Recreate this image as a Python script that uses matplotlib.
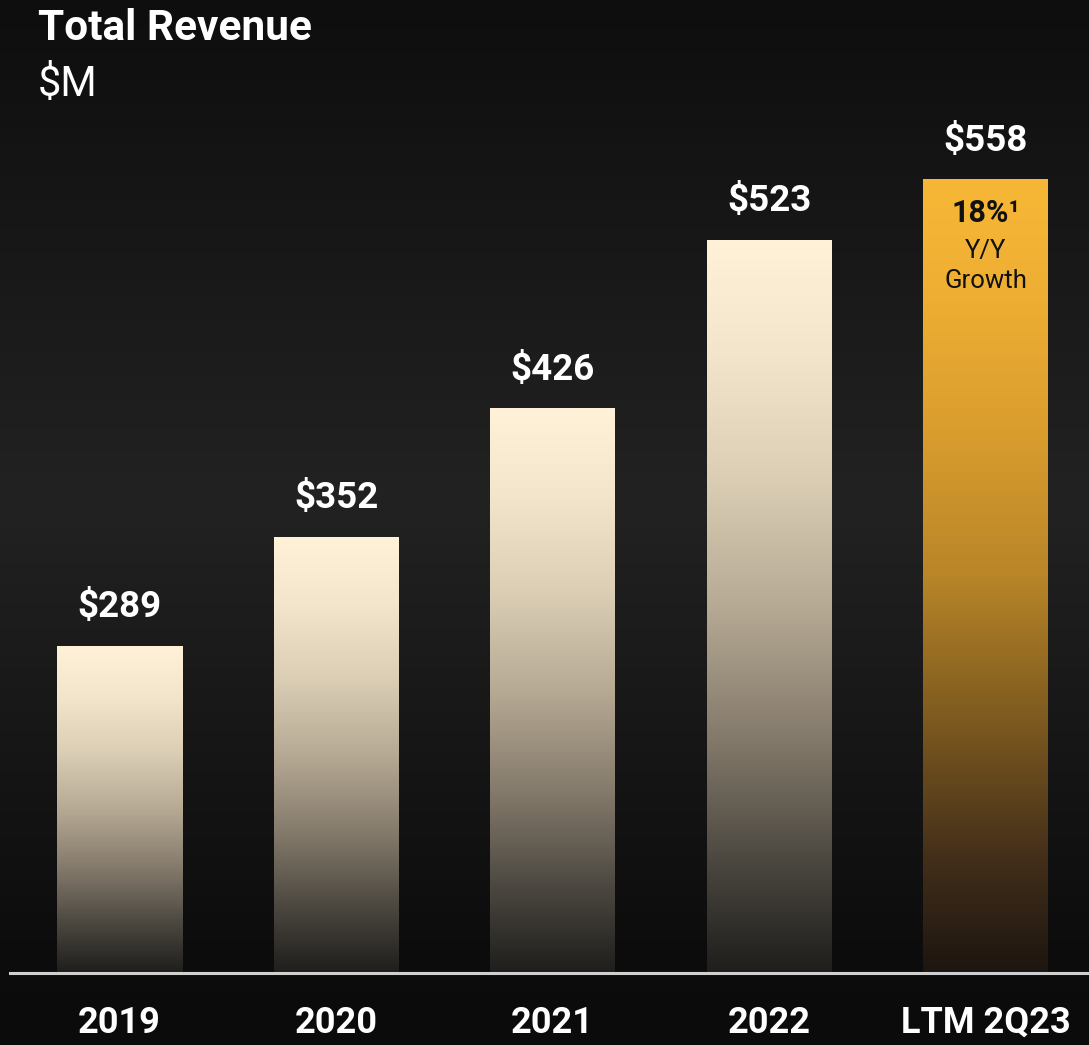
import numpy as np
import matplotlib
matplotlib.use("Agg")
import matplotlib.pyplot as plt
from matplotlib.colors import LinearSegmentedColormap

categories = ["2019", "2020", "2021", "2022", "LTM 2Q23"]
revenue = [289, 352, 426, 523, 558]
value_labels = ["$289", "$352", "$426", "$523", "$558"]
title = "Total Revenue"
subtitle = "$M"
growth_pct = "18%\u00b9"
growth_note = "Y/Y\nGrowth"

W, H = 1089, 1045
fig = plt.figure(figsize=(W / 100, H / 100), dpi=100)

# background gradient
bg = fig.add_axes([0, 0, 1, 1], zorder=-10)
bg_cmap = LinearSegmentedColormap.from_list(
    "bg", [(0.0, "#0e0e0e"), (0.48, "#222222"), (0.9, "#0d0d0d"), (1.0, "#0b0b0b")])
bg.imshow(np.linspace(0, 1, 256).reshape(-1, 1), aspect="auto", cmap=bg_cmap,
          extent=[0, 1, 1, 0])
bg.set_axis_off()

# main axes in pixel placement: x 10..1089, y 0..973 (from top)
ax_left, ax_right, ax_top, ax_bottom = 10, 1089, 0, 973
ax = fig.add_axes([ax_left / W, 1 - ax_bottom / H, (ax_right - ax_left) / W,
                   (ax_bottom - ax_top) / H])
ax.patch.set_alpha(0)
step = 216.5
x0 = (ax_left - 119.5) / step
x1 = (ax_right - 119.5) / step
base = 100.5
scale = 1.735

cream = LinearSegmentedColormap.from_list(
    "cream", [(0.0, "#1f1e1c"), (0.15, "#4b4740"), (0.32, "#847a6b"),
              (0.5, "#b6aa95"), (0.68, "#dccfb6"), (0.85, "#f3e6cc"), (1.0, "#fff2d9")])
gold = LinearSegmentedColormap.from_list(
    "gold", [(0.0, "#1c1510"), (0.15, "#45301a"), (0.32, "#7d5a1f"),
             (0.5, "#b88528"), (0.68, "#d99d2e"), (0.85, "#eeae33"), (1.0, "#f7b736")])

xs = np.arange(len(categories))
bars = ax.bar(xs, [v - base for v in revenue], bottom=base, width=125 / step,
              color="none", edgecolor="none")
grad = np.linspace(0, 1, 256).reshape(-1, 1)
for i, b in enumerate(bars):
    cmap = gold if i == len(bars) - 1 else cream
    xl, yb = b.get_x(), b.get_y()
    im = ax.imshow(grad, origin="lower", aspect="auto", cmap=cmap,
                   extent=[xl, xl + b.get_width(), yb, yb + b.get_height()], zorder=2)
    im.set_clip_path(b)

ax.set_xlim(x0, x1)
ax.set_ylim(base, base + (ax_bottom - ax_top) / scale)

for i, v in enumerate(revenue):
    ax.annotate(value_labels[i], (xs[i], v), xytext=(0, 38.5 * 0.72), textcoords="offset points",
                ha="center", va="center", color="white", fontsize=26.5,
                fontweight="bold", family="Roboto")

# growth text inside last bar
ax.annotate(growth_pct, (xs[-1], revenue[-1]), xytext=(0, -34 * 0.72),
            textcoords="offset points", ha="center", va="center", color="#111111",
            fontsize=22, fontweight="bold", family="Roboto")
ax.annotate(growth_note, (xs[-1], revenue[-1]), xytext=(0, -87 * 0.72),
            textcoords="offset points", ha="center", va="center", color="#111111",
            fontsize=18.5, family="Roboto", linespacing=1.3)

for s in ["top", "right", "left"]:
    ax.spines[s].set_visible(False)
ax.spines["bottom"].set_color("#d0d0d0")
ax.spines["bottom"].set_linewidth(2.2)
ax.set_yticks([])
ax.set_xticks(xs)
ax.set_xticklabels(categories)
ax.tick_params(axis="x", length=0, pad=23)
for t in ax.get_xticklabels():
    t.set_color("white")
    t.set_fontsize(26)
    t.set_fontweight("bold")
    t.set_family("Roboto")

fig.text(38 / W, 1 - 29 / H, title, color="white", fontsize=30.5, fontweight="bold",
         family="Roboto", ha="left", va="center")
fig.text(38 / W, 1 - 85 / H, subtitle, color="white", fontsize=30,
         family="Roboto", ha="left", va="center")

fig.savefig("out.png", dpi=100, facecolor="#111111")
